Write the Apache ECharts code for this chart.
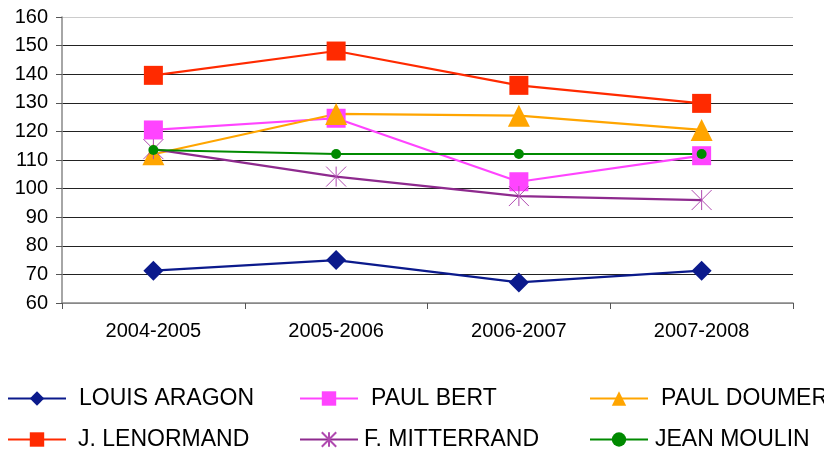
<!DOCTYPE html>
<html>
<head>
<meta charset="utf-8">
<script src="https://cdn.jsdelivr.net/npm/echarts@6/dist/echarts.min.js"></script>
<style>
  html, body { margin: 0; padding: 0; background: #fff; }
  #main { width: 824px; height: 454px; }
</style>
</head>
<body>
<div id="main"></div>
<script>
// school years on the x axis
const years = ['2004-2005', '2005-2006', '2006-2007', '2007-2008'];

// values, one array per school
const louisAragon = [71.3, 75.0, 67.2, 71.3];
const paulBert = [120.5, 124.6, 102.4, 111.5];
const paulDoumer = [112.0, 126.1, 125.5, 120.5];
const jLenormand = [139.6, 148.1, 136.1, 129.8];
const fMitterrand = [113.8, 104.2, 97.4, 96.0];
const jeanMoulin = [113.5, 112.1, 112.1, 112.1];

// asterisk marker (x + vertical bar)
const STAR = 'path://M0,0L20,20M20,0L0,20M10,0L10,20';

const FONT = 'Liberation Sans, Arial, sans-serif';

function makeSeries(name, data, color, symbol, size, extra) {
    let s = {
        name: name,
        type: 'line',
        data: data,
        symbol: symbol,
        symbolSize: size,
        lineStyle: { color: color, width: 2.2 },
        itemStyle: { color: color },
        emphasis: { disabled: true },
        animation: false
    };
    return Object.assign(s, extra || {});
}

// one legend per entry so the columns line up like the original
function legendAt(name, left, top, pad) {
    return {
        data: [name],
        left: left,
        top: top,
        padding: 0,
        itemWidth: 58,
        itemHeight: 18,
        itemGap: 0,
        textStyle: { fontSize: 23, color: '#000', fontFamily: FONT, padding: [0, 0, 0, pad] }
    };
}

let optionObj = {
    backgroundColor: '#fff',
    animation: false,
    grid: { left: 62, right: 31, top: 17, bottom: 151, containLabel: false },
    legend: [
        legendAt('LOUIS ARAGON', 7, 387, 8),
        legendAt('PAUL BERT', 299, 387, 8),
        legendAt('PAUL DOUMER', 589, 387, 8),
        legendAt('J. LENORMAND', 7, 428, 7),
        legendAt('F. MITTERRAND', 299, 428, 1),
        legendAt('JEAN MOULIN', 589, 428, 2)
    ],
    xAxis: {
        type: 'category',
        data: years,
        boundaryGap: true,
        axisLine: { lineStyle: { color: '#888', width: 1.5 } },
        axisTick: { show: true, length: 6, lineStyle: { color: '#555' } },
        axisLabel: { fontSize: 20, color: '#000', fontFamily: FONT, margin: 18 },
        splitLine: { show: false }
    },
    yAxis: {
        type: 'value',
        min: 60,
        max: 160,
        interval: 10,
        axisLine: { show: true, lineStyle: { color: '#888', width: 1.5 } },
        axisTick: { show: true, length: 6, lineStyle: { color: '#555' } },
        axisLabel: { fontSize: 20, color: '#000', fontFamily: FONT, margin: 14 },
        splitLine: {
            show: true,
            lineStyle: {
                color: ['#888', '#222', '#222', '#222', '#222', '#222', '#222', '#222', '#222', '#222', '#ccc'],
                width: 1.2
            }
        }
    },
    series: [
        makeSeries('LOUIS ARAGON', louisAragon, '#0b1a8c', 'diamond', 20),
        makeSeries('PAUL BERT', paulBert, '#ff44ff', 'rect', 19),
        makeSeries('PAUL DOUMER', paulDoumer, '#ffa500', 'triangle', 22),
        makeSeries('J. LENORMAND', jLenormand, '#ff2a00', 'rect', 19),
        makeSeries('F. MITTERRAND', fMitterrand, '#8e2a8e', STAR, 20, {
            itemStyle: { color: 'none', borderColor: '#b04ab0', borderWidth: 1 }
        }),
        makeSeries('JEAN MOULIN', jeanMoulin, '#008a00', 'circle', 10)
    ]
};

let chartDom = document.getElementById('main');
let myChart = echarts.init(chartDom);
myChart.setOption(optionObj);
</script>
</body>
</html>
